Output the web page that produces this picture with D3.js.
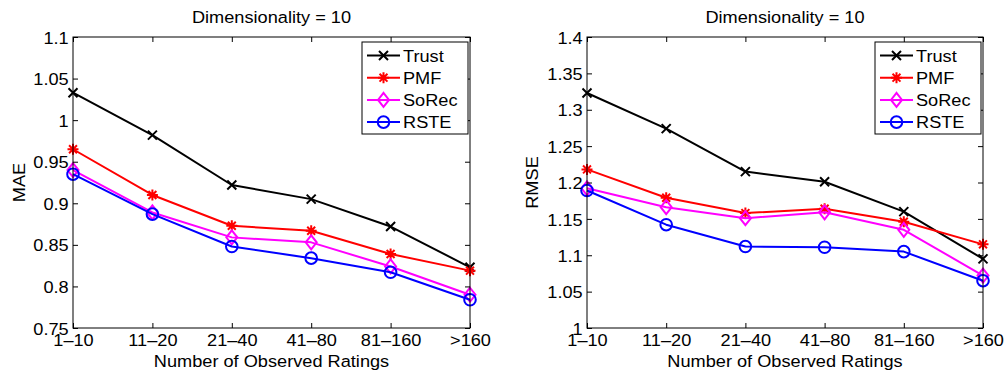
<!DOCTYPE html>
<html>
<head>
<meta charset="utf-8">
<script src="https://cdn.jsdelivr.net/npm/d3@7"></script>
<style>
  html, body { margin: 0; padding: 0; background: #fff; }
  svg { display: block; }
  text { font-family: "Liberation Sans", Arial, Helvetica, sans-serif; fill: #000; }
</style>
</head>
<body>
<svg id="chart" width="1008" height="375"></svg>
<script>
// Rating-count buckets on the x axis
const categories = ["1\u201310", "11\u201320", "21\u201340", "41\u201380", "81\u2013160", ">160"];
const seriesNames = ["Trust", "PMF", "SoRec", "RSTE"];

// MAE per bucket
const maeTrust = [1.033, 0.982, 0.922, 0.905, 0.872, 0.823];
const maePMF   = [0.965, 0.910, 0.873, 0.867, 0.839, 0.819];
const maeSoRec = [0.940, 0.889, 0.859, 0.853, 0.824, 0.790];
const maeRSTE  = [0.935, 0.887, 0.848, 0.834, 0.817, 0.784];

// RMSE per bucket
const rmseTrust = [1.323, 1.274, 1.215, 1.201, 1.160, 1.095];
const rmsePMF   = [1.218, 1.179, 1.158, 1.164, 1.146, 1.115];
const rmseSoRec = [1.192, 1.166, 1.151, 1.159, 1.135, 1.072];
const rmseRSTE  = [1.189, 1.142, 1.112, 1.111, 1.105, 1.065];

const maeTicks  = [0.75, 0.8, 0.85, 0.9, 0.95, 1, 1.05, 1.1];
const rmseTicks = [1, 1.05, 1.1, 1.15, 1.2, 1.25, 1.3, 1.35, 1.4];

const colors = { Trust: "#000000", PMF: "#ff0000", SoRec: "#ff00ff", RSTE: "#0000ff" };

const svg = d3.select("#chart");
const FONT = 17;
const SX = 1.07;   // slight horizontal widening of all lettering

// text drawn at (x, y) with horizontal widening around its anchor
function label(parent, x, y, str, anchor, rotate) {
  const t = parent.append("g")
    .attr("transform", `translate(${x},${y})${rotate ? ` rotate(${rotate})` : ""} scale(${SX},1)`);
  return t.append("text").attr("text-anchor", anchor || "start")
    .attr("font-size", FONT).text(str);
}

function marker(g, name, x, y, col) {
  if (name === "Trust") {
    const s = 4.5;
    g.append("path").attr("d", `M${x-s},${y-s}L${x+s},${y+s}M${x-s},${y+s}L${x+s},${y-s}`)
      .attr("stroke", col).attr("stroke-width", 2).attr("fill", "none");
  } else if (name === "PMF") {
    const s = 5.5, d = s * 0.72;
    g.append("path").attr("d",
      `M${x-s},${y}L${x+s},${y}M${x},${y-s}L${x},${y+s}M${x-d},${y-d}L${x+d},${y+d}M${x-d},${y+d}L${x+d},${y-d}`)
      .attr("stroke", col).attr("stroke-width", 2).attr("fill", "none");
  } else if (name === "SoRec") {
    const w = 5.5, h = 7;
    g.append("path").attr("d", `M${x},${y-h}L${x+w},${y}L${x},${y+h}L${x-w},${y}Z`)
      .attr("stroke", col).attr("stroke-width", 2).attr("fill", "none");
  } else {
    g.append("circle").attr("cx", x).attr("cy", y).attr("r", 5.8)
      .attr("stroke", col).attr("stroke-width", 2).attr("fill", "none");
  }
}

function panel(opts) {
  const { left, right, top, bottom, domain, ticks, ylabel, ylabelX, data } = opts;
  const g = svg.append("g");
  const x = d3.scalePoint().domain(categories).range([left, right]).padding(0);
  const y = d3.scaleLinear().domain(domain).range([bottom, top]);
  const tickLen = 5;

  // data lines and markers
  seriesNames.forEach(name => {
    const vals = data[name];
    const pts = categories.map((c, i) => [x(c), y(vals[i])]);
    g.append("path")
      .attr("d", d3.line()(pts))
      .attr("fill", "none").attr("stroke", colors[name]).attr("stroke-width", 2)
      .attr("stroke-linejoin", "round");
    pts.forEach(p => marker(g, name, p[0], p[1], colors[name]));
  });

  // axes box
  g.append("rect").attr("x", left).attr("y", top)
    .attr("width", right - left).attr("height", bottom - top)
    .attr("fill", "none").attr("stroke", "#000").attr("stroke-width", 1);

  // bottom axis with inward ticks, mirrored on top
  const xb = g.append("g").attr("transform", `translate(0,${bottom})`)
    .call(d3.axisBottom(x).tickSizeInner(-tickLen).tickSizeOuter(0));
  xb.select(".domain").remove();
  xb.selectAll("text").attr("font-size", FONT).attr("dy", "0.71em").attr("y", 6)
    .attr("transform", `scale(${SX},1)`);
  const xt = g.append("g").attr("transform", `translate(0,${top})`)
    .call(d3.axisTop(x).tickSizeInner(-tickLen).tickSizeOuter(0).tickFormat(""));
  xt.select(".domain").remove();

  // left axis with inward ticks, mirrored on right
  const yl = g.append("g").attr("transform", `translate(${left},0)`)
    .call(d3.axisLeft(y).tickValues(ticks).tickSizeInner(-tickLen).tickSizeOuter(0)
      .tickFormat(d3.format("")));
  yl.select(".domain").remove();
  yl.selectAll("text").attr("font-size", FONT).attr("x", -4).attr("dy", "0.36em")
    .attr("transform", `scale(${SX},1)`);
  const yr = g.append("g").attr("transform", `translate(${right},0)`)
    .call(d3.axisRight(y).tickValues(ticks).tickSizeInner(-tickLen).tickSizeOuter(0).tickFormat(""));
  yr.select(".domain").remove();
  g.selectAll(".tick line").attr("stroke", "#000");
  g.selectAll(".tick text").attr("font-family", "Liberation Sans, Arial, sans-serif").attr("fill", "#000");

  // titles
  label(g, (left + right) / 2, 23, "Dimensionality = 10", "middle");
  label(g, (left + right) / 2, 367, "Number of Observed Ratings", "middle");
  label(g, ylabelX, (top + bottom) / 2, ylabel, "middle", -90);

  // legend
  const lx = right - 108, ly = top + 5, lw = 106, lh = 92;
  const lg = g.append("g");
  lg.append("rect").attr("x", lx).attr("y", ly).attr("width", lw).attr("height", lh)
    .attr("fill", "#fff").attr("stroke", "#000").attr("stroke-width", 1);
  seriesNames.forEach((name, i) => {
    const cy = ly + 13.5 + i * 22.2;
    lg.append("line").attr("x1", lx + 5).attr("x2", lx + 38).attr("y1", cy).attr("y2", cy)
      .attr("stroke", colors[name]).attr("stroke-width", 2);
    marker(lg, name, lx + 21.5, cy, colors[name]);
    label(lg, lx + 41, cy, name, "start").attr("dy", "0.36em");
  });
}

panel({
  left: 73, right: 470, top: 37, bottom: 328,
  domain: [0.75, 1.1], ticks: maeTicks, ylabel: "MAE", ylabelX: 25,
  data: { Trust: maeTrust, PMF: maePMF, SoRec: maeSoRec, RSTE: maeRSTE }
});
panel({
  left: 587, right: 983, top: 37, bottom: 328,
  domain: [1, 1.4], ticks: rmseTicks, ylabel: "RMSE", ylabelX: 538,
  data: { Trust: rmseTrust, PMF: rmsePMF, SoRec: rmseSoRec, RSTE: rmseRSTE }
});
</script>
</body>
</html>
